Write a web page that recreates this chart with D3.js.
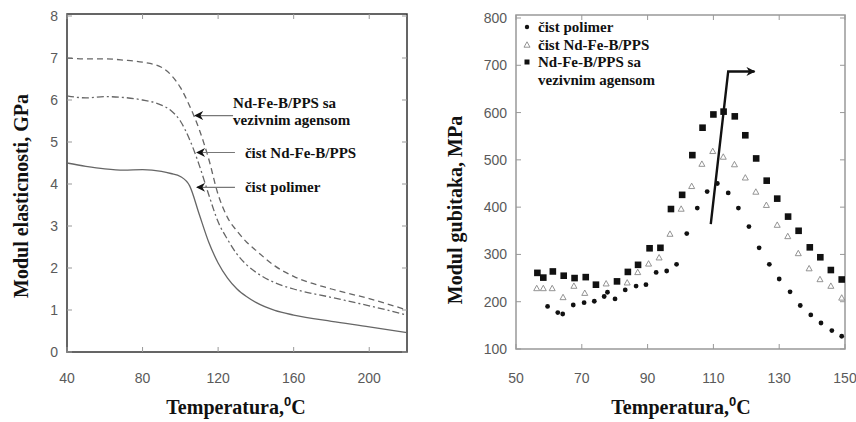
<!DOCTYPE html>
<html>
<head>
<meta charset="utf-8">
<script src="https://cdn.jsdelivr.net/npm/d3@7"></script>
<style>
  body { margin: 0; background: #fff; }
  .tick-label { font-family: "Liberation Sans", Arial, sans-serif; font-size: 14px; fill: #5a5a5a; }
  .title { font-family: "Liberation Serif", "DejaVu Serif", serif; font-weight: bold; font-size: 20px; fill: #111; }
  .note { font-family: "Liberation Serif", "DejaVu Serif", serif; font-weight: bold; font-size: 15px; fill: #111; }
</style>
</head>
<body>
<svg id="chart" width="856" height="422"></svg>
<script>
// ---- left panel: storage modulus vs temperature ----
const leftTemps = [40, 50, 60, 70, 80, 90, 95, 100, 105, 110, 115, 120, 125, 130, 135, 140, 150, 160, 180, 200, 220];
const polymer   = [4.5, 4.42, 4.36, 4.33, 4.34, 4.3, 4.25, 4.18, 3.95, 3.28, 2.62, 2.12, 1.76, 1.5, 1.32, 1.18, 0.99, 0.88, 0.73, 0.6, 0.46];
const pureNdFeB = [6.1, 6.05, 6.08, 6.06, 6.0, 5.88, 5.75, 5.5, 5.05, 4.45, 3.75, 3.1, 2.68, 2.33, 2.08, 1.9, 1.65, 1.5, 1.3, 1.1, 0.88];
const withAgent = [7.0, 6.98, 6.98, 6.95, 6.9, 6.78, 6.6, 6.3, 5.85, 5.3, 4.6, 3.75, 3.2, 2.88, 2.62, 2.42, 2.05, 1.8, 1.5, 1.27, 1.0];
const leftXTicks = [40, 80, 120, 160, 200];
const leftYTicks = [0, 1, 2, 3, 4, 5, 6, 7, 8];

// annotation labels of the left panel (tip temperature, tip value, text lines)
const leftNotes = [
    { tipT: 107.8, tipV: 5.63, lines: ["Nd-Fe-B/PPS sa", "vezivnim agensom"] },
    { tipT: 108.8, tipV: 4.75, lines: ["čist Nd-Fe-B/PPS"] },
    { tipT: 108.8, tipV: 3.92, lines: ["čist polimer"] }
];

// ---- right panel: loss modulus vs temperature ----
const circleTemps = [59.6, 62.7, 64.2, 67.4, 70.7, 73.8, 76.8, 77.8, 80.1, 83.2, 86.5, 89.5, 92.6, 95.8, 98.8, 101.9, 105.1, 108.1, 111.2, 114.5, 117.6, 120.8, 123.9, 127, 130, 133.3, 136.4, 139.6, 142.7, 146, 149];
const circleVals  = [190, 177, 174, 193, 198, 201, 211, 220, 206, 225, 233, 236, 262, 265, 279, 344, 398, 433, 450, 430, 398, 359, 314, 279, 248, 221, 192, 172, 155, 139, 127];
const triTemps = [56.3, 58.3, 61, 64.3, 67.6, 70.9, 77.4, 83.8, 87, 90.3, 93.5, 96.8, 100.2, 103.4, 106.5, 109.8, 113, 116.4, 119.7, 122.9, 126.1, 129.4, 132.6, 135.8, 139.1, 142.4, 145.7, 149];
const triVals  = [228, 228, 228, 209, 233, 218, 238, 240, 262, 280, 293, 343, 396, 444, 491, 518, 506, 490, 462, 432, 404, 362, 338, 302, 270, 247, 233, 208];
const squareTemps = [56.5, 58.3, 61.2, 64.5, 67.8, 71.2, 74.3, 80.7, 84, 87.1, 90.6, 93.9, 97.1, 100.5, 103.6, 106.7, 110, 113.1, 116.5, 119.7, 123, 126.2, 129.4, 132.7, 135.9, 139.3, 142.5, 145.7, 149];
const squareVals  = [261, 251, 264, 255, 250, 252, 236, 243, 263, 278, 313, 314, 396, 426, 510, 568, 596, 602, 592, 552, 503, 456, 418, 380, 350, 315, 294, 267, 247];
const rightXTicks = [50, 70, 90, 110, 130, 150];
const rightYTicks = [100, 200, 300, 400, 500, 600, 700, 800];
const legendLabels = ["čist polimer", "čist Nd-Fe-B/PPS", "Nd-Fe-B/PPS sa", "vezivnim agensom"];
// shift arrow: from (T, value) up to the top and then to the right
const shiftArrow = [[109.2, 364], [114.5, 687], [122.5, 687]];

const svg = d3.select("#chart");

svg.append("defs").append("marker")
    .attr("id", "head")
    .attr("viewBox", "0 0 10 10")
    .attr("refX", 9).attr("refY", 5)
    .attr("markerWidth", 11).attr("markerHeight", 9)
    .attr("markerUnits", "userSpaceOnUse")
    .attr("orient", "auto")
    .append("path")
    .attr("d", "M0,0 L10,5 L0,10 L3,5 Z")
    .attr("fill", "#111");

/**
 * Draws the frame, mirrored inward ticks and the tick labels of one panel.
 */
function draw_frame(g, x, y, xTicks, yTicks, top, frameColor) {
    const [x0, x1] = x.range();
    const y0 = y.range()[0];
    g.append("rect")
        .attr("x", x0).attr("y", top)
        .attr("width", x1 - x0).attr("height", y0 - top)
        .attr("fill", "none")
        .attr("stroke", frameColor)
        .attr("stroke-width", 1.5);

    // inward ticks on all four sides
    xTicks.forEach(function (t) {
        g.append("line").attr("x1", x(t)).attr("x2", x(t)).attr("y1", y0).attr("y2", y0 - 5)
            .attr("stroke", "#999");
        g.append("line").attr("x1", x(t)).attr("x2", x(t)).attr("y1", top).attr("y2", top + 5)
            .attr("stroke", "#999");
        g.append("text").attr("class", "tick-label")
            .attr("x", x(t)).attr("y", 383)
            .attr("text-anchor", "middle")
            .text(t);
    });
    yTicks.forEach(function (t) {
        g.append("line").attr("x1", x0).attr("x2", x0 + 5).attr("y1", y(t)).attr("y2", y(t))
            .attr("stroke", "#999");
        g.append("line").attr("x1", x1).attr("x2", x1 - 5).attr("y1", y(t)).attr("y2", y(t))
            .attr("stroke", "#999");
        g.append("text").attr("class", "tick-label")
            .attr("x", x0 - 9).attr("y", y(t) + 5)
            .attr("text-anchor", "end")
            .text(t);
    });
}

/**
 * Adds the x and y axis titles for one panel.
 */
function draw_titles(g, xCenter, yTitle, yTitleX, yTitleY) {
    const xt = g.append("text").attr("class", "title")
        .attr("x", xCenter).attr("y", 414)
        .attr("text-anchor", "middle");
    xt.append("tspan").text("Temperatura,");
    xt.append("tspan").attr("dy", -8).attr("font-size", 13)
        .attr("font-family", "Liberation Sans, Arial, sans-serif").text("0");
    xt.append("tspan").attr("dy", 8).text("C");

    g.append("text").attr("class", "title")
        .attr("transform", "translate(" + yTitleX + "," + yTitleY + ") rotate(-90)")
        .attr("text-anchor", "middle")
        .text(yTitle);
}

// ---------- left panel ----------
const xL = d3.scaleLinear().domain([40, 220]).range([67, 407]);
const yL = d3.scaleLinear().domain([0, 8]).range([352, 16]);
const gL = svg.append("g");

draw_frame(gL, xL, yL, leftXTicks, leftYTicks, 14, "#333");
draw_titles(gL, 236, "Modul elasticnosti, GPa", 28, 196);

const lineL = d3.line()
    .x(function (d) { return xL(d[0]); })
    .y(function (d) { return yL(d[1]); })
    .curve(d3.curveMonotoneX);

const leftSeries = [
    { vals: polymer, dash: null },
    { vals: pureNdFeB, dash: "7,3,2,3" },
    { vals: withAgent, dash: "6,4" }
];
leftSeries.forEach(function (s) {
    gL.append("path")
        .datum(leftTemps.map(function (t, i) { return [t, s.vals[i]]; }))
        .attr("d", lineL)
        .attr("fill", "none")
        .attr("stroke", "#666")
        .attr("stroke-width", 1.3)
        .attr("stroke-dasharray", s.dash);
});

leftNotes.forEach(function (n) {
    const tx = xL(n.tipT), ty = yL(n.tipV);
    gL.append("line")
        .attr("x1", tx + 38).attr("y1", ty)
        .attr("x2", tx).attr("y2", ty)
        .attr("stroke", "#777")
        .attr("stroke-width", 1.2)
        .attr("marker-end", "url(#head)");
    const off = n.lines.length > 1 ? 38 : 48;
    n.lines.forEach(function (l, i) {
        gL.append("text").attr("class", "note")
            .attr("x", tx + off)
            .attr("y", ty + 5 + (i - (n.lines.length - 1) * 0.5) * 17 - (n.lines.length > 1 ? 4 : 0))
            .text(l);
    });
});

// ---------- right panel ----------
const xR = d3.scaleLinear().domain([50, 150]).range([516, 845]);
const yR = d3.scaleLinear().domain([100, 800]).range([349, 18]);
const gR = svg.append("g");

draw_frame(gR, xR, yR, rightXTicks, rightYTicks, 15, "#999");
draw_titles(gR, 681, "Modul gubitaka, MPa", 462, 210);

const triPath = "M0,-3.2 L3,2.2 L-3,2.2 Z";

gR.selectAll(".tri")
    .data(triTemps.map(function (t, i) { return [t, triVals[i]]; }))
    .enter().append("path")
    .attr("class", "tri")
    .attr("transform", function (d) { return "translate(" + xR(d[0]) + "," + yR(d[1]) + ")"; })
    .attr("d", triPath)
    .attr("fill", "none")
    .attr("stroke", "#888")
    .attr("stroke-width", 0.9);

gR.selectAll(".sq")
    .data(squareTemps.map(function (t, i) { return [t, squareVals[i]]; }))
    .enter().append("rect")
    .attr("class", "sq")
    .attr("x", function (d) { return xR(d[0]) - 3.3; })
    .attr("y", function (d) { return yR(d[1]) - 3.3; })
    .attr("width", 6.6).attr("height", 6.6)
    .attr("fill", "#111");

gR.selectAll(".dot")
    .data(circleTemps.map(function (t, i) { return [t, circleVals[i]]; }))
    .enter().append("circle")
    .attr("class", "dot")
    .attr("cx", function (d) { return xR(d[0]); })
    .attr("cy", function (d) { return yR(d[1]); })
    .attr("r", 2.4)
    .attr("fill", "#111");

gR.append("path")
    .attr("d", d3.line()
        .x(function (d) { return xR(d[0]); })
        .y(function (d) { return yR(d[1]); })(shiftArrow))
    .attr("fill", "none")
    .attr("stroke", "#111")
    .attr("stroke-width", 2.4)
    .attr("marker-end", "url(#head)");

// legend
const legX = 527;
const legRows = [27, 45, 62, 80];
gR.append("circle").attr("cx", legX).attr("cy", legRows[0]).attr("r", 2.2).attr("fill", "#111");
gR.append("path").attr("transform", "translate(" + legX + "," + legRows[1] + ")")
    .attr("d", triPath).attr("fill", "none").attr("stroke", "#888").attr("stroke-width", 0.9);
gR.append("rect").attr("x", legX - 2.5).attr("y", legRows[2] - 2.5)
    .attr("width", 5).attr("height", 5).attr("fill", "#111");
legendLabels.forEach(function (l, i) {
    gR.append("text").attr("class", "note")
        .attr("x", legX + 11)
        .attr("y", legRows[i] + 5)
        .text(l);
});
</script>
</body>
</html>
